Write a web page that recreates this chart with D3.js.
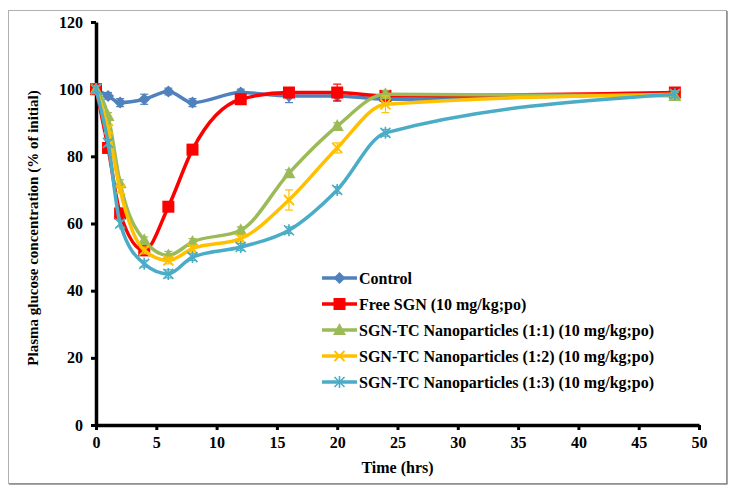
<!DOCTYPE html>
<html>
<head>
<meta charset="utf-8">
<script src="https://cdn.jsdelivr.net/npm/d3@7"></script>
<style>
  html, body { margin: 0; padding: 0; background: #fff; }
  svg { display: block; }
  text { font-family: "Liberation Serif", "Times New Roman", serif; font-weight: bold; fill: #000; }
</style>
</head>
<body>
<svg id="chart" width="734" height="495"></svg>
<script>
// ---- data ----
const times = [0, 1, 2, 4, 6, 8, 12, 16, 20, 24, 48];
const seriesNames = [
  "Control",
  "Free SGN (10 mg/kg;po)",
  "SGN-TC Nanoparticles (1:1) (10 mg/kg;po)",
  "SGN-TC Nanoparticles (1:2) (10 mg/kg;po)",
  "SGN-TC Nanoparticles (1:3) (10 mg/kg;po)"
];
const controlValues = [100, 98, 96, 97, 99.3, 96, 99, 98, 98, 97, 99];
const controlErrors = [1, 1, 1.2, 1.5, 1, 1.2, 1, 2, 1.5, 1, 1];
const freeValues = [100, 82.5, 63, 52, 65, 82, 97, 99, 99, 98, 99];
const freeErrors = [1, 1, 1.5, 1, 1, 1, 1.5, 1, 2.5, 1, 1];
const np11Values = [100, 92, 72, 55, 50.5, 54.5, 58, 75, 89, 98.5, 98];
const np11Errors = [1, 1, 1, 1, 1.2, 1, 1, 1, 1, 1, 1];
const np12Values = [100, 88, 70, 52, 49, 52.5, 55.5, 67, 82.5, 95.5, 98.5];
const np12Errors = [1, 1, 1, 1, 1, 1, 1, 3, 1.5, 2.5, 1];
const np13Values = [100, 84, 60, 48, 45, 50, 53, 58, 70, 87, 98.5];
const np13Errors = [1, 1, 1, 1, 1.2, 1, 1, 1, 1, 1, 1];
const xTicks = [0, 5, 10, 15, 20, 25, 30, 35, 40, 45, 50];
const yTicks = [0, 20, 40, 60, 80, 100, 120];

const colors = ["#4F81BD", "#FF0000", "#9BBB59", "#FFC000", "#4BACC6"];
const markers = ["diamond", "square", "triangle", "x", "star"];
const seriesValues = [controlValues, freeValues, np11Values, np12Values, np13Values];
const seriesErrors = [controlErrors, freeErrors, np11Errors, np12Errors, np13Errors];

// ---- layout ----
const svg = d3.select("#chart");
const x = d3.scaleLinear().domain([0, 50]).range([96, 699]);
const y = d3.scaleLinear().domain([0, 120]).range([425, 22]);

// frame
svg.append("rect").attr("x", 8.5).attr("y", 10.5).attr("width", 718).attr("height", 473)
  .attr("fill", "none").attr("stroke", "#b0b0b0").attr("stroke-width", 1);
svg.append("line").attr("x1", 727).attr("x2", 727).attr("y1", 11).attr("y2", 484)
  .attr("stroke", "#888").attr("stroke-width", 1.5);
svg.append("line").attr("x1", 9).attr("x2", 727.5).attr("y1", 484).attr("y2", 484)
  .attr("stroke", "#888").attr("stroke-width", 1.5);

// axes
const xAxis = d3.axisBottom(x).tickValues(xTicks).tickSize(5).tickPadding(7).tickSizeOuter(0);
const yAxis = d3.axisLeft(y).tickValues(yTicks).tickSize(5).tickPadding(8).tickSizeOuter(0);

const gx = svg.append("g").attr("transform", "translate(0,425)").call(xAxis);
const gy = svg.append("g").attr("transform", "translate(96,0)").call(yAxis);
[gx, gy].forEach(g => {
  g.select(".domain").attr("stroke", "#000").attr("stroke-width", 3.5);
  g.selectAll(".tick line").attr("stroke", "#000").attr("stroke-width", 3);
  g.selectAll(".tick text").style("font-family", '"Liberation Serif", serif')
    .style("font-weight", "bold").style("font-size", "16px").attr("fill", "#000");
});

svg.append("text").attr("x", (96 + 699) / 2).attr("y", 473).attr("text-anchor", "middle")
  .style("font-size", "16px").text("Time (hrs)");
svg.append("text").attr("transform", "translate(38,228) rotate(-90)").attr("text-anchor", "middle")
  .style("font-size", "15px").text("Plasma glucose concentration (% of initial)");

// marker drawer
function drawMarker(g, type, cx, cy, color) {
  const m = g.append("g").attr("transform", `translate(${cx},${cy})`);
  if (type === "diamond") {
    m.append("path").attr("d", "M0,-6L6,0L0,6L-6,0Z").attr("fill", color);
  } else if (type === "square") {
    m.append("rect").attr("x", -6).attr("y", -6).attr("width", 12).attr("height", 12).attr("fill", color);
  } else if (type === "triangle") {
    m.append("path").attr("d", "M0,-7L6.5,5L-6.5,5Z").attr("fill", color);
  } else if (type === "x") {
    m.append("path").attr("d", "M-5,-5L5,5M-5,5L5,-5").attr("stroke", color).attr("stroke-width", 1.8);
  } else if (type === "star") {
    m.append("path").attr("d", "M-5,-5L5,5M-5,5L5,-5M0,-6L0,6").attr("stroke", color).attr("stroke-width", 1.6);
  }
}

const line = d3.line().x(d => x(d[0])).y(d => y(d[1])).curve(d3.curveMonotoneX);

seriesValues.forEach((vals, i) => {
  const g = svg.append("g");
  const pts = times.map((t, j) => [t, vals[j]]);
  // error bars
  pts.forEach((p, j) => {
    const e = seriesErrors[i][j];
    const px = x(p[0]);
    g.append("line").attr("x1", px).attr("x2", px).attr("y1", y(p[1] - e)).attr("y2", y(p[1] + e))
      .attr("stroke", colors[i]).attr("stroke-width", 1.2);
    [p[1] - e, p[1] + e].forEach(v => {
      g.append("line").attr("x1", px - 4).attr("x2", px + 4).attr("y1", y(v)).attr("y2", y(v))
        .attr("stroke", colors[i]).attr("stroke-width", 1.2);
    });
  });
  g.append("path").attr("d", line(pts)).attr("fill", "none").attr("stroke", colors[i])
    .attr("stroke-width", 3.5).attr("stroke-linejoin", "round");
  pts.forEach(p => drawMarker(g, markers[i], x(p[0]), y(p[1]), colors[i]));
});

// legend
const legendY = [278, 304, 330, 356, 382];
seriesNames.forEach((name, i) => {
  const g = svg.append("g");
  g.append("line").attr("x1", 322).attr("x2", 357).attr("y1", legendY[i]).attr("y2", legendY[i])
    .attr("stroke", colors[i]).attr("stroke-width", 3.5);
  drawMarker(g, markers[i], 339.5, legendY[i], colors[i]);
  g.append("text").attr("x", 359).attr("y", legendY[i] + 5.5).style("font-size", "16px").text(name);
});
</script>
</body>
</html>
